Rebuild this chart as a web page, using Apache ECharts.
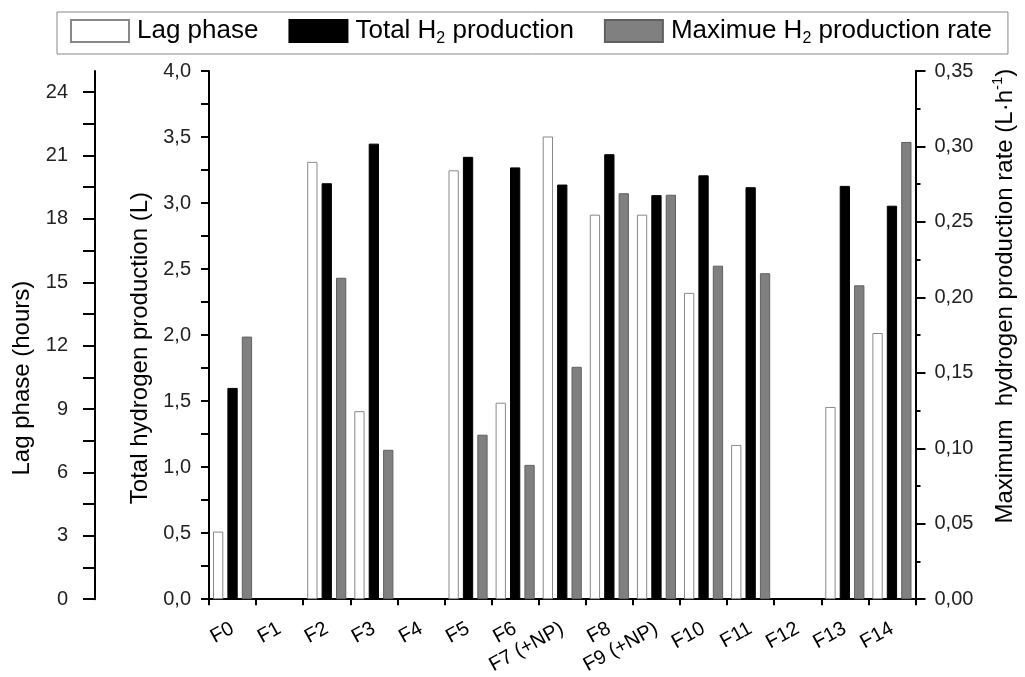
<!DOCTYPE html>
<html>
<head>
<meta charset="utf-8">
<script src="https://cdn.jsdelivr.net/npm/echarts@6/dist/echarts.min.js"></script>
<style>
  html, body { margin: 0; padding: 0; background: #fff; }
  #chart { width: 1025px; height: 677px; }
</style>
</head>
<body>
<div id="chart"></div>
<script>
// 样品
var categories = ['F0', 'F1', 'F2', 'F3', 'F4', 'F5', 'F6', 'F7 (+NP)', 'F8', 'F9 (+NP)', 'F10', 'F11', 'F12', 'F13', 'F14'];
// 延滞期 (hours)
var lagPhase = [3.2, null, 20.7, 8.9, null, 20.3, 9.3, 21.9, 18.2, 18.2, 14.5, 7.3, null, 9.1, 12.6];
// 总产氢量 (L)
var totalH2 = [1.60, null, 3.15, 3.45, null, 3.35, 3.27, 3.14, 3.37, 3.06, 3.21, 3.12, null, 3.13, 2.98];
// 最大产氢速率 (L/h)
var maxRate = [0.174, null, 0.213, 0.099, null, 0.109, 0.089, 0.154, 0.269, 0.268, 0.221, 0.216, null, 0.208, 0.303];
// 刻度
var lagLabels = [0, 3, 6, 9, 12, 15, 18, 21, 24];
var lagTicks = [0, 1.5, 3, 4.5, 6, 7.5, 9, 10.5, 12, 13.5, 15, 16.5, 18, 19.5, 21, 22.5, 24];

var font = 'Liberation Sans, Arial, sans-serif';

var chart = echarts.init(document.getElementById('chart'));
chart.setOption({
  animation: false,
  textStyle: { fontFamily: font, color: '#000' },
  legend: {
    left: 57,
    top: 12,
    icon: 'rect',
    itemWidth: 58,
    itemHeight: 22,
    itemGap: 30,
    borderColor: '#888',
    borderWidth: 1,
    padding: [6, 16, 7, 13],
    textStyle: {
      fontSize: 26,
      color: '#000',
      padding: [0, 0, 0, 3],
      rich: {
        sub: { fontSize: 16, padding: [16, 0, 0, 0] }
      }
    },
    formatter: function (name) {
      return name.replace('H2', 'H{sub|2}');
    },
    data: ['Lag phase', 'Total H2 production', 'Maximue H2 production rate']
  },
  grid: { left: 209, right: 101, top: 71, bottom: 74 },
  xAxis: {
    type: 'category',
    data: categories,
    axisLine: { lineStyle: { color: '#000', width: 2 } },
    axisTick: { show: true, length: 6, lineStyle: { color: '#000', width: 2 } },
    axisLabel: { rotate: 29, fontSize: 20, color: '#000', margin: 28, interval: 0 }
  },
  yAxis: [
    {
      // 总产氢量
      type: 'value',
      position: 'left',
      min: 0,
      max: 4,
      interval: 0.5,
      name: 'Total hydrogen production (L)',
      nameLocation: 'middle',
      nameRotate: 90,
      nameGap: 57,
      nameTextStyle: { fontSize: 24, color: '#000', padding: [0, 26, 0, 0] },
      splitLine: { show: false },
      axisLine: { show: true, lineStyle: { color: '#000', width: 2 } },
      axisTick: { show: true, length: 8, lineStyle: { color: '#000', width: 2 } },
      minorTick: { show: true, splitNumber: 2, length: 8, lineStyle: { color: '#000', width: 2 } },
      axisLabel: {
        fontSize: 20, color: '#222', margin: 18,
        formatter: function (v) { return v.toFixed(1).replace('.', ','); }
      }
    },
    {
      // 延滞期
      type: 'value',
      position: 'left',
      offset: 114,
      min: 0,
      max: 25,
      interval: 3,
      name: 'Lag phase (hours)',
      nameLocation: 'middle',
      nameRotate: 90,
      nameGap: 61,
      nameTextStyle: { fontSize: 24, color: '#000', padding: [0, 86, 0, 0] },
      splitLine: { show: false },
      axisLine: { show: true, lineStyle: { color: '#000', width: 2 } },
      axisTick: { show: true, length: 12, customValues: lagTicks, lineStyle: { color: '#000', width: 2 } },
      axisLabel: { fontSize: 20, color: '#222', margin: 27, customValues: lagLabels }
    },
    {
      // 最大产氢速率
      type: 'value',
      position: 'right',
      min: 0,
      max: 0.35,
      interval: 0.05,
      name: 'Maximum  hydrogen production rate (L·h{sup|-1})',
      nameLocation: 'middle',
      nameRotate: 90,
      nameGap: 75,
      nameTextStyle: {
        fontSize: 24, color: '#000', padding: [0, 0, 0, 78],
        rich: { sup: { fontSize: 15, padding: [0, 0, 14, 0] } }
      },
      splitLine: { show: false },
      axisLine: { show: true, lineStyle: { color: '#000', width: 2 } },
      axisTick: { show: true, length: 10, lineStyle: { color: '#000', width: 2 } },
      minorTick: { show: true, splitNumber: 2, length: 5, lineStyle: { color: '#000', width: 2 } },
      axisLabel: {
        fontSize: 20, color: '#222', margin: 19,
        formatter: function (v) { return v.toFixed(2).replace('.', ','); }
      }
    }
  ],
  series: [
    {
      name: 'Lag phase',
      type: 'bar',
      yAxisIndex: 1,
      data: lagPhase,
      barCategoryGap: '17%',
      barGap: '40%',
      itemStyle: { color: '#fff', borderColor: '#888', borderWidth: 1 }
    },
    {
      name: 'Total H2 production',
      type: 'bar',
      yAxisIndex: 0,
      data: totalH2,
      itemStyle: { color: '#000', borderColor: '#000', borderWidth: 1 }
    },
    {
      name: 'Maximue H2 production rate',
      type: 'bar',
      yAxisIndex: 2,
      data: maxRate,
      itemStyle: { color: '#808080', borderColor: '#606060', borderWidth: 1 }
    }
  ]
});
</script>
</body>
</html>
